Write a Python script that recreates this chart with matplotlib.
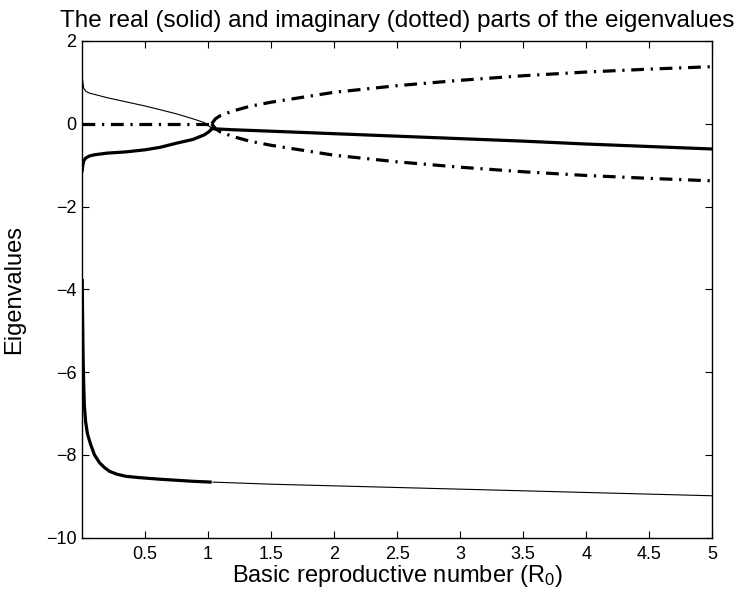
import matplotlib
matplotlib.use("Agg")
import matplotlib.pyplot as plt

plt.rcParams['font.family'] = ['Liberation Sans', 'DejaVu Sans']
plt.rcParams['mathtext.fontset'] = 'custom'
plt.rcParams['mathtext.rm'] = 'Liberation Sans'
plt.rcParams['mathtext.it'] = 'Liberation Sans'

# before the eigenvalues collide (real pair)
r0_pre = [0.003, 0.008, 0.015, 0.03, 0.06, 0.1, 0.2, 0.35, 0.5, 0.62, 0.75, 0.88, 0.97, 1.0, 1.02, 1.03]
upper_pre = [1.15, 1.0, 0.86, 0.79, 0.74, 0.71, 0.63, 0.53, 0.43, 0.34, 0.24, 0.12, 0.03, -0.04, -0.08, -0.12]
lower_pre = [-1.13, -1.0, -0.9, -0.83, -0.78, -0.75, -0.71, -0.68, -0.63, -0.57, -0.47, -0.38, -0.27, -0.21, -0.16, -0.12]
imag_pre_x = [0.003, 1.03]
imag_pre = [0.0, 0.0]

# after the collision (complex pair)
r0_post = [1.03, 1.06, 1.1, 1.2, 1.33, 1.5, 2.0, 2.5, 3.0, 3.5, 4.0, 4.5, 5.0]
real_post = [-0.12, -0.125, -0.13, -0.145, -0.16, -0.18, -0.24, -0.30, -0.36, -0.42, -0.49, -0.55, -0.61]
imag_post = [0.0, 0.12, 0.2, 0.31, 0.42, 0.52, 0.76, 0.92, 1.05, 1.16, 1.25, 1.32, 1.38]

# third (strongly negative) eigenvalue
r0_third_a = [0.003, 0.006, 0.01, 0.015, 0.02, 0.03, 0.045, 0.07, 0.1, 0.14, 0.18, 0.22, 0.28, 0.35, 0.45, 0.62, 0.88, 1.03]
third_a = [-3.75, -4.6, -5.6, -6.3, -6.8, -7.2, -7.5, -7.75, -8.0, -8.19, -8.31, -8.40, -8.47, -8.52, -8.55, -8.59, -8.64, -8.66]
r0_third_b = [1.04, 1.5, 2.0, 2.5, 3.0, 3.5, 4.0, 4.5, 5.0]
third_b = [-8.66, -8.71, -8.75, -8.79, -8.83, -8.87, -8.91, -8.95, -8.99]

thick = 2.3
thin = 0.8
dashdot = (0, (4, 2.1, 0.7, 2.1))

fig = plt.figure(figsize=(7.53, 5.94), dpi=100)
ax = fig.add_axes([0.109, 0.095, 0.837, 0.836])

ax.plot(r0_pre, upper_pre, color='black', lw=thin)
ax.plot(r0_pre, lower_pre, color='black', lw=thick)
ax.plot(imag_pre_x, imag_pre, color='black', lw=thick, linestyle=dashdot)

ax.plot(r0_post, real_post, color='black', lw=thick)
ax.plot(r0_post, imag_post, color='black', lw=thick, linestyle=dashdot)
ax.plot(r0_post, [-v for v in imag_post], color='black', lw=thick, linestyle=dashdot)

ax.plot(r0_third_a, third_a, color='black', lw=thick, solid_capstyle='butt')
ax.plot(r0_third_b, third_b, color='black', lw=thin)

ax.set_xlim(0.002, 5)
ax.set_ylim(-10, 2)
ax.set_xticks([0.5, 1, 1.5, 2, 2.5, 3, 3.5, 4, 4.5, 5])
ax.set_xticklabels(['0.5', '1', '1.5', '2', '2.5', '3', '3.5', '4', '4.5', '5'])
ax.set_yticks([-10, -8, -6, -4, -2, 0, 2])
ax.set_yticklabels(['\u221210', '\u22128', '\u22126', '\u22124', '\u22122', '0', '2'])
ax.tick_params(direction='in', top=True, right=True, length=5, width=0.8, labelsize=13)
ax.tick_params(axis='x', pad=6)
ax.tick_params(axis='y', pad=4)
for s in ax.spines.values():
    s.set_linewidth(1.0)

ax.set_xlabel('Basic reproductive number (R$_0$)', fontsize=17, labelpad=0)
ax.set_ylabel('Eigenvalues', fontsize=17, labelpad=15)
ax.set_title('The real (solid) and imaginary (dotted) parts of the eigenvalues', fontsize=17.5, pad=10)

fig.savefig('out.png', dpi=100)
